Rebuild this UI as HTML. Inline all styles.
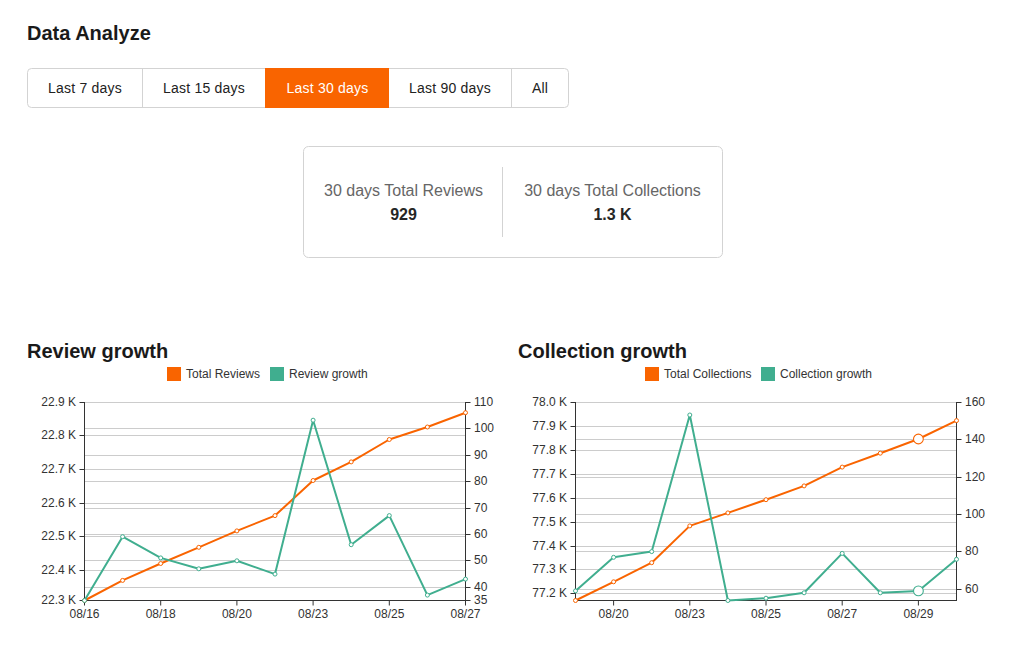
<!DOCTYPE html>
<html><head><meta charset="utf-8"><style>
html,body{margin:0;padding:0;background:#fff;width:1026px;height:653px;overflow:hidden}
svg{display:block}
text{font-family:"Liberation Sans",sans-serif}
.ax{font-size:12px;fill:#333}
.h1{font-size:20px;font-weight:bold;fill:#1a1a1a}
.btn{font-size:14px;fill:#222;letter-spacing:0.2px}
.lg{font-size:12px;fill:#333}
</style></head><body>
<svg width="1026" height="653" viewBox="0 0 1026 653">
<rect width="1026" height="653" fill="#fff"/>
<text x="27" y="40" class="h1">Data Analyze</text>
<rect x="27.5" y="68.5" width="541" height="39" rx="4" ry="4" fill="#fff" stroke="#d3d3d3"/>
<line x1="142.5" y1="68" x2="142.5" y2="108" stroke="#d3d3d3"/>
<line x1="511.5" y1="68" x2="511.5" y2="108" stroke="#d3d3d3"/>
<rect x="265" y="68" width="124" height="40" fill="#f96400"/>
<text x="85" y="93" text-anchor="middle" class="btn">Last 7 days</text>
<text x="204" y="93" text-anchor="middle" class="btn">Last 15 days</text>
<text x="327.5" y="93" text-anchor="middle" class="btn" style="fill:#fff">Last 30 days</text>
<text x="450" y="93" text-anchor="middle" class="btn">Last 90 days</text>
<text x="540" y="93" text-anchor="middle" class="btn">All</text>
<rect x="303.5" y="146.5" width="419" height="111" rx="5" ry="5" fill="#fff" stroke="#d3d3d3"/>
<line x1="502.5" y1="167" x2="502.5" y2="237" stroke="#d3d3d3"/>
<text x="403.5" y="196" text-anchor="middle" style="font-size:16px;fill:#666">30 days Total Reviews</text>
<text x="403.5" y="220" text-anchor="middle" style="font-size:16px;font-weight:bold;fill:#262626">929</text>
<text x="612.5" y="196" text-anchor="middle" style="font-size:16px;fill:#666">30 days Total Collections</text>
<text x="612.5" y="220" text-anchor="middle" style="font-size:16px;font-weight:bold;fill:#262626">1.3 K</text>
<text x="27" y="358" class="h1">Review growth</text>
<text x="518" y="358" class="h1">Collection growth</text>
<rect x="167" y="367" width="14" height="14" fill="#f96400"/>
<text x="186" y="377.7" class="lg">Total Reviews</text>
<rect x="270" y="367" width="14" height="14" fill="#40ae8f"/>
<text x="289" y="377.7" class="lg">Review growth</text>
<rect x="645" y="367" width="14" height="14" fill="#f96400"/>
<text x="664" y="377.7" class="lg">Total Collections</text>
<rect x="761" y="367" width="14" height="14" fill="#40ae8f"/>
<text x="780" y="377.7" class="lg">Collection growth</text>
<line x1="84.5" y1="402.5" x2="465.5" y2="402.5" stroke="#cccccc" stroke-width="1"/>
<line x1="84.5" y1="428.5" x2="465.5" y2="428.5" stroke="#cccccc" stroke-width="1"/>
<line x1="84.5" y1="435.5" x2="465.5" y2="435.5" stroke="#cccccc" stroke-width="1"/>
<line x1="84.5" y1="455.5" x2="465.5" y2="455.5" stroke="#cccccc" stroke-width="1"/>
<line x1="84.5" y1="469.5" x2="465.5" y2="469.5" stroke="#cccccc" stroke-width="1"/>
<line x1="84.5" y1="481.5" x2="465.5" y2="481.5" stroke="#cccccc" stroke-width="1"/>
<line x1="84.5" y1="503.5" x2="465.5" y2="503.5" stroke="#cccccc" stroke-width="1"/>
<line x1="84.5" y1="508.5" x2="465.5" y2="508.5" stroke="#cccccc" stroke-width="1"/>
<line x1="84.5" y1="534.5" x2="465.5" y2="534.5" stroke="#cccccc" stroke-width="1"/>
<line x1="84.5" y1="536.5" x2="465.5" y2="536.5" stroke="#cccccc" stroke-width="1"/>
<line x1="84.5" y1="560.5" x2="465.5" y2="560.5" stroke="#cccccc" stroke-width="1"/>
<line x1="84.5" y1="570.5" x2="465.5" y2="570.5" stroke="#cccccc" stroke-width="1"/>
<line x1="84.5" y1="587.5" x2="465.5" y2="587.5" stroke="#cccccc" stroke-width="1"/>
<line x1="84.5" y1="402" x2="84.5" y2="601" stroke="#333" stroke-width="1"/>
<line x1="465.5" y1="402" x2="465.5" y2="601" stroke="#333" stroke-width="1"/>
<line x1="84.0" y1="600.5" x2="466.0" y2="600.5" stroke="#333" stroke-width="1"/>
<line x1="79.5" y1="402.5" x2="84.5" y2="402.5" stroke="#333" stroke-width="1"/>
<text x="76.0" y="405.9" text-anchor="end" class="ax">22.9 K</text>
<line x1="79.5" y1="435.5" x2="84.5" y2="435.5" stroke="#333" stroke-width="1"/>
<text x="76.0" y="438.9" text-anchor="end" class="ax">22.8 K</text>
<line x1="79.5" y1="469.5" x2="84.5" y2="469.5" stroke="#333" stroke-width="1"/>
<text x="76.0" y="472.9" text-anchor="end" class="ax">22.7 K</text>
<line x1="79.5" y1="503.5" x2="84.5" y2="503.5" stroke="#333" stroke-width="1"/>
<text x="76.0" y="506.9" text-anchor="end" class="ax">22.6 K</text>
<line x1="79.5" y1="536.5" x2="84.5" y2="536.5" stroke="#333" stroke-width="1"/>
<text x="76.0" y="539.9" text-anchor="end" class="ax">22.5 K</text>
<line x1="79.5" y1="570.5" x2="84.5" y2="570.5" stroke="#333" stroke-width="1"/>
<text x="76.0" y="573.9" text-anchor="end" class="ax">22.4 K</text>
<line x1="79.5" y1="600.5" x2="84.5" y2="600.5" stroke="#333" stroke-width="1"/>
<text x="76.0" y="603.9" text-anchor="end" class="ax">22.3 K</text>
<line x1="465.5" y1="402.5" x2="470.5" y2="402.5" stroke="#333" stroke-width="1"/>
<text x="474.0" y="405.9" text-anchor="start" class="ax">110</text>
<line x1="465.5" y1="428.5" x2="470.5" y2="428.5" stroke="#333" stroke-width="1"/>
<text x="474.0" y="431.9" text-anchor="start" class="ax">100</text>
<line x1="465.5" y1="455.5" x2="470.5" y2="455.5" stroke="#333" stroke-width="1"/>
<text x="474.0" y="458.9" text-anchor="start" class="ax">90</text>
<line x1="465.5" y1="481.5" x2="470.5" y2="481.5" stroke="#333" stroke-width="1"/>
<text x="474.0" y="484.9" text-anchor="start" class="ax">80</text>
<line x1="465.5" y1="508.5" x2="470.5" y2="508.5" stroke="#333" stroke-width="1"/>
<text x="474.0" y="511.9" text-anchor="start" class="ax">70</text>
<line x1="465.5" y1="534.5" x2="470.5" y2="534.5" stroke="#333" stroke-width="1"/>
<text x="474.0" y="537.9" text-anchor="start" class="ax">60</text>
<line x1="465.5" y1="560.5" x2="470.5" y2="560.5" stroke="#333" stroke-width="1"/>
<text x="474.0" y="563.9" text-anchor="start" class="ax">50</text>
<line x1="465.5" y1="587.5" x2="470.5" y2="587.5" stroke="#333" stroke-width="1"/>
<text x="474.0" y="590.9" text-anchor="start" class="ax">40</text>
<line x1="465.5" y1="600.5" x2="470.5" y2="600.5" stroke="#333" stroke-width="1"/>
<text x="474.0" y="603.9" text-anchor="start" class="ax">35</text>
<line x1="84.5" y1="600.5" x2="84.5" y2="605.5" stroke="#333" stroke-width="1"/>
<text x="84.5" y="617.5" text-anchor="middle" class="ax">08/16</text>
<line x1="160.7" y1="600.5" x2="160.7" y2="605.5" stroke="#333" stroke-width="1"/>
<text x="160.7" y="617.5" text-anchor="middle" class="ax">08/18</text>
<line x1="236.9" y1="600.5" x2="236.9" y2="605.5" stroke="#333" stroke-width="1"/>
<text x="236.9" y="617.5" text-anchor="middle" class="ax">08/20</text>
<line x1="313.1" y1="600.5" x2="313.1" y2="605.5" stroke="#333" stroke-width="1"/>
<text x="313.1" y="617.5" text-anchor="middle" class="ax">08/23</text>
<line x1="389.3" y1="600.5" x2="389.3" y2="605.5" stroke="#333" stroke-width="1"/>
<text x="389.3" y="617.5" text-anchor="middle" class="ax">08/25</text>
<line x1="465.5" y1="600.5" x2="465.5" y2="605.5" stroke="#333" stroke-width="1"/>
<text x="465.5" y="617.5" text-anchor="middle" class="ax">08/27</text>
<polyline points="84.5,600.5 122.6,580.4 160.7,563.5 198.8,547.3 236.9,530.9 275.0,515.6 313.1,480.5 351.2,461.9 389.3,439.5 427.4,427.0 465.5,412.7" fill="none" stroke="#f96400" stroke-width="2" stroke-linejoin="round"/>
<circle cx="84.5" cy="600.5" r="2" fill="#fff" stroke="#f96400" stroke-width="1"/>
<circle cx="122.6" cy="580.4" r="2" fill="#fff" stroke="#f96400" stroke-width="1"/>
<circle cx="160.7" cy="563.5" r="2" fill="#fff" stroke="#f96400" stroke-width="1"/>
<circle cx="198.8" cy="547.3" r="2" fill="#fff" stroke="#f96400" stroke-width="1"/>
<circle cx="236.9" cy="530.9" r="2" fill="#fff" stroke="#f96400" stroke-width="1"/>
<circle cx="275.0" cy="515.6" r="2" fill="#fff" stroke="#f96400" stroke-width="1"/>
<circle cx="313.1" cy="480.5" r="2" fill="#fff" stroke="#f96400" stroke-width="1"/>
<circle cx="351.2" cy="461.9" r="2" fill="#fff" stroke="#f96400" stroke-width="1"/>
<circle cx="389.3" cy="439.5" r="2" fill="#fff" stroke="#f96400" stroke-width="1"/>
<circle cx="427.4" cy="427.0" r="2" fill="#fff" stroke="#f96400" stroke-width="1"/>
<circle cx="465.5" cy="412.7" r="2" fill="#fff" stroke="#f96400" stroke-width="1"/>
<polyline points="84.5,600.5 122.6,536.7 160.7,557.9 198.8,568.8 236.9,560.8 275.0,574.1 313.1,420.2 351.2,544.7 389.3,515.6 427.4,595.1 465.5,579.1" fill="none" stroke="#40ae8f" stroke-width="2" stroke-linejoin="round"/>
<circle cx="84.5" cy="600.5" r="2" fill="#fff" stroke="#40ae8f" stroke-width="1"/>
<circle cx="122.6" cy="536.7" r="2" fill="#fff" stroke="#40ae8f" stroke-width="1"/>
<circle cx="160.7" cy="557.9" r="2" fill="#fff" stroke="#40ae8f" stroke-width="1"/>
<circle cx="198.8" cy="568.8" r="2" fill="#fff" stroke="#40ae8f" stroke-width="1"/>
<circle cx="236.9" cy="560.8" r="2" fill="#fff" stroke="#40ae8f" stroke-width="1"/>
<circle cx="275.0" cy="574.1" r="2" fill="#fff" stroke="#40ae8f" stroke-width="1"/>
<circle cx="313.1" cy="420.2" r="2" fill="#fff" stroke="#40ae8f" stroke-width="1"/>
<circle cx="351.2" cy="544.7" r="2" fill="#fff" stroke="#40ae8f" stroke-width="1"/>
<circle cx="389.3" cy="515.6" r="2" fill="#fff" stroke="#40ae8f" stroke-width="1"/>
<circle cx="427.4" cy="595.1" r="2" fill="#fff" stroke="#40ae8f" stroke-width="1"/>
<circle cx="465.5" cy="579.1" r="2" fill="#fff" stroke="#40ae8f" stroke-width="1"/>
<line x1="575.5" y1="402.5" x2="956.5" y2="402.5" stroke="#cccccc" stroke-width="1"/>
<line x1="575.5" y1="426.5" x2="956.5" y2="426.5" stroke="#cccccc" stroke-width="1"/>
<line x1="575.5" y1="439.5" x2="956.5" y2="439.5" stroke="#cccccc" stroke-width="1"/>
<line x1="575.5" y1="450.5" x2="956.5" y2="450.5" stroke="#cccccc" stroke-width="1"/>
<line x1="575.5" y1="474.5" x2="956.5" y2="474.5" stroke="#cccccc" stroke-width="1"/>
<line x1="575.5" y1="477.5" x2="956.5" y2="477.5" stroke="#cccccc" stroke-width="1"/>
<line x1="575.5" y1="498.5" x2="956.5" y2="498.5" stroke="#cccccc" stroke-width="1"/>
<line x1="575.5" y1="514.5" x2="956.5" y2="514.5" stroke="#cccccc" stroke-width="1"/>
<line x1="575.5" y1="522.5" x2="956.5" y2="522.5" stroke="#cccccc" stroke-width="1"/>
<line x1="575.5" y1="546.5" x2="956.5" y2="546.5" stroke="#cccccc" stroke-width="1"/>
<line x1="575.5" y1="551.5" x2="956.5" y2="551.5" stroke="#cccccc" stroke-width="1"/>
<line x1="575.5" y1="569.5" x2="956.5" y2="569.5" stroke="#cccccc" stroke-width="1"/>
<line x1="575.5" y1="589.5" x2="956.5" y2="589.5" stroke="#cccccc" stroke-width="1"/>
<line x1="575.5" y1="593.5" x2="956.5" y2="593.5" stroke="#cccccc" stroke-width="1"/>
<line x1="575.5" y1="402" x2="575.5" y2="601" stroke="#333" stroke-width="1"/>
<line x1="956.5" y1="402" x2="956.5" y2="601" stroke="#333" stroke-width="1"/>
<line x1="575.0" y1="600.5" x2="957.0" y2="600.5" stroke="#333" stroke-width="1"/>
<line x1="570.5" y1="402.5" x2="575.5" y2="402.5" stroke="#333" stroke-width="1"/>
<text x="567.0" y="405.9" text-anchor="end" class="ax">78.0 K</text>
<line x1="570.5" y1="426.5" x2="575.5" y2="426.5" stroke="#333" stroke-width="1"/>
<text x="567.0" y="429.9" text-anchor="end" class="ax">77.9 K</text>
<line x1="570.5" y1="450.5" x2="575.5" y2="450.5" stroke="#333" stroke-width="1"/>
<text x="567.0" y="453.9" text-anchor="end" class="ax">77.8 K</text>
<line x1="570.5" y1="474.5" x2="575.5" y2="474.5" stroke="#333" stroke-width="1"/>
<text x="567.0" y="477.9" text-anchor="end" class="ax">77.7 K</text>
<line x1="570.5" y1="498.5" x2="575.5" y2="498.5" stroke="#333" stroke-width="1"/>
<text x="567.0" y="501.9" text-anchor="end" class="ax">77.6 K</text>
<line x1="570.5" y1="522.5" x2="575.5" y2="522.5" stroke="#333" stroke-width="1"/>
<text x="567.0" y="525.9" text-anchor="end" class="ax">77.5 K</text>
<line x1="570.5" y1="546.5" x2="575.5" y2="546.5" stroke="#333" stroke-width="1"/>
<text x="567.0" y="549.9" text-anchor="end" class="ax">77.4 K</text>
<line x1="570.5" y1="569.5" x2="575.5" y2="569.5" stroke="#333" stroke-width="1"/>
<text x="567.0" y="572.9" text-anchor="end" class="ax">77.3 K</text>
<line x1="570.5" y1="593.5" x2="575.5" y2="593.5" stroke="#333" stroke-width="1"/>
<text x="567.0" y="596.9" text-anchor="end" class="ax">77.2 K</text>
<line x1="956.5" y1="402.5" x2="961.5" y2="402.5" stroke="#333" stroke-width="1"/>
<text x="965.0" y="405.9" text-anchor="start" class="ax">160</text>
<line x1="956.5" y1="439.5" x2="961.5" y2="439.5" stroke="#333" stroke-width="1"/>
<text x="965.0" y="442.9" text-anchor="start" class="ax">140</text>
<line x1="956.5" y1="477.5" x2="961.5" y2="477.5" stroke="#333" stroke-width="1"/>
<text x="965.0" y="480.9" text-anchor="start" class="ax">120</text>
<line x1="956.5" y1="514.5" x2="961.5" y2="514.5" stroke="#333" stroke-width="1"/>
<text x="965.0" y="517.9" text-anchor="start" class="ax">100</text>
<line x1="956.5" y1="551.5" x2="961.5" y2="551.5" stroke="#333" stroke-width="1"/>
<text x="965.0" y="554.9" text-anchor="start" class="ax">80</text>
<line x1="956.5" y1="589.5" x2="961.5" y2="589.5" stroke="#333" stroke-width="1"/>
<text x="965.0" y="592.9" text-anchor="start" class="ax">60</text>
<line x1="613.6" y1="600.5" x2="613.6" y2="605.5" stroke="#333" stroke-width="1"/>
<text x="613.6" y="617.5" text-anchor="middle" class="ax">08/20</text>
<line x1="689.8" y1="600.5" x2="689.8" y2="605.5" stroke="#333" stroke-width="1"/>
<text x="689.8" y="617.5" text-anchor="middle" class="ax">08/23</text>
<line x1="766.0" y1="600.5" x2="766.0" y2="605.5" stroke="#333" stroke-width="1"/>
<text x="766.0" y="617.5" text-anchor="middle" class="ax">08/25</text>
<line x1="842.2" y1="600.5" x2="842.2" y2="605.5" stroke="#333" stroke-width="1"/>
<text x="842.2" y="617.5" text-anchor="middle" class="ax">08/27</text>
<line x1="918.4000000000001" y1="600.5" x2="918.4000000000001" y2="605.5" stroke="#333" stroke-width="1"/>
<text x="918.4000000000001" y="617.5" text-anchor="middle" class="ax">08/29</text>
<polyline points="575.5,600.5 613.6,581.8 651.7,562.7 689.8,525.9 727.9,512.9 766.0,499.7 804.1,485.9 842.2,467.1 880.3,453.2 918.4,439.0 956.5,420.6" fill="none" stroke="#f96400" stroke-width="2" stroke-linejoin="round"/>
<circle cx="575.5" cy="600.5" r="2" fill="#fff" stroke="#f96400" stroke-width="1"/>
<circle cx="613.6" cy="581.8" r="2" fill="#fff" stroke="#f96400" stroke-width="1"/>
<circle cx="651.7" cy="562.7" r="2" fill="#fff" stroke="#f96400" stroke-width="1"/>
<circle cx="689.8" cy="525.9" r="2" fill="#fff" stroke="#f96400" stroke-width="1"/>
<circle cx="727.9" cy="512.9" r="2" fill="#fff" stroke="#f96400" stroke-width="1"/>
<circle cx="766.0" cy="499.7" r="2" fill="#fff" stroke="#f96400" stroke-width="1"/>
<circle cx="804.1" cy="485.9" r="2" fill="#fff" stroke="#f96400" stroke-width="1"/>
<circle cx="842.2" cy="467.1" r="2" fill="#fff" stroke="#f96400" stroke-width="1"/>
<circle cx="880.3" cy="453.2" r="2" fill="#fff" stroke="#f96400" stroke-width="1"/>
<circle cx="918.4" cy="439.0" r="4.9" fill="#fff" stroke="#f96400" stroke-width="1.1"/>
<circle cx="956.5" cy="420.6" r="2" fill="#fff" stroke="#f96400" stroke-width="1"/>
<polyline points="575.5,590.9 613.6,557.3 651.7,551.6 689.8,415.0 727.9,600.5 766.0,598.2 804.1,592.8 842.2,553.4 880.3,592.8 918.4,590.9 956.5,559.3" fill="none" stroke="#40ae8f" stroke-width="2" stroke-linejoin="round"/>
<circle cx="575.5" cy="590.9" r="2" fill="#fff" stroke="#40ae8f" stroke-width="1"/>
<circle cx="613.6" cy="557.3" r="2" fill="#fff" stroke="#40ae8f" stroke-width="1"/>
<circle cx="651.7" cy="551.6" r="2" fill="#fff" stroke="#40ae8f" stroke-width="1"/>
<circle cx="689.8" cy="415.0" r="2" fill="#fff" stroke="#40ae8f" stroke-width="1"/>
<circle cx="727.9" cy="600.5" r="2" fill="#fff" stroke="#40ae8f" stroke-width="1"/>
<circle cx="766.0" cy="598.2" r="2" fill="#fff" stroke="#40ae8f" stroke-width="1"/>
<circle cx="804.1" cy="592.8" r="2" fill="#fff" stroke="#40ae8f" stroke-width="1"/>
<circle cx="842.2" cy="553.4" r="2" fill="#fff" stroke="#40ae8f" stroke-width="1"/>
<circle cx="880.3" cy="592.8" r="2" fill="#fff" stroke="#40ae8f" stroke-width="1"/>
<circle cx="918.4" cy="590.9" r="4.9" fill="#fff" stroke="#40ae8f" stroke-width="1.1"/>
<circle cx="956.5" cy="559.3" r="2" fill="#fff" stroke="#40ae8f" stroke-width="1"/>
</svg>
</body></html>
